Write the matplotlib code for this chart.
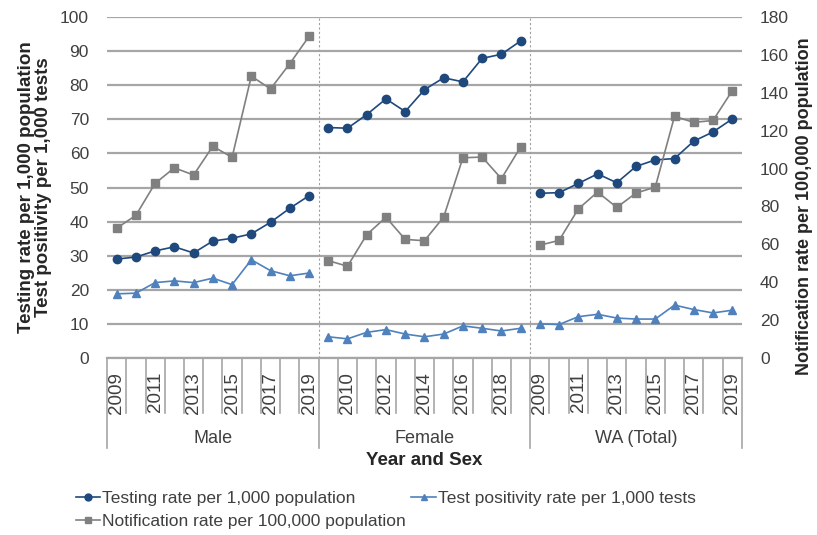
import matplotlib.pyplot as plt
import matplotlib.transforms as mtransforms
from matplotlib.lines import Line2D

plt.rcParams['font.family'] = ['Liberation Sans', 'DejaVu Sans']

groups = ["Male", "Female", "WA (Total)"]
years = [2009, 2010, 2011, 2012, 2013, 2014, 2015, 2016, 2017, 2018, 2019]

testing = {
    "Male": [29.0, 29.6, 31.4, 32.6, 30.8, 34.3, 35.1, 36.4, 39.8, 43.9, 47.6],
    "Female": [67.6, 67.4, 71.4, 76.0, 72.3, 78.7, 82.2, 81.0, 87.9, 89.1, 93.0],
    "WA (Total)": [48.3, 48.5, 51.2, 54.0, 51.4, 56.2, 58.1, 58.5, 63.6, 66.3, 70.1],
}
positivity = {
    "Male": [18.8, 19.0, 22.1, 22.6, 22.1, 23.4, 21.5, 28.8, 25.6, 24.1, 24.9],
    "Female": [6.2, 5.6, 7.5, 8.3, 7.0, 6.2, 7.0, 9.4, 8.7, 7.9, 8.7],
    "WA (Total)": [10.0, 9.8, 12.1, 12.8, 11.7, 11.4, 11.4, 15.5, 14.2, 13.2, 14.0],
}
notification = {
    "Male": [68.5, 75.3, 92.2, 100.4, 96.6, 111.8, 105.9, 148.8, 142.1, 155.4, 169.8],
    "Female": [51.4, 48.4, 65.1, 74.3, 62.6, 61.9, 74.4, 105.7, 106.1, 94.7, 111.4],
    "WA (Total)": [59.5, 62.1, 78.7, 87.6, 79.5, 87.1, 90.2, 127.6, 124.4, 125.4, 141.1],
}

c_test = "#1F497D"
c_pos = "#4F81BD"
c_note = "#808080"
c_grid = "#A6A6A6"
c_txt = "#404040"

fig = plt.figure(figsize=(8.17, 5.35), dpi=100)
ax = fig.add_axes([0.131, 0.331, 0.777, 0.637])
ax2 = ax.twinx()

n = len(years)
for g, name in enumerate(groups):
    x = [g * n + i for i in range(n)]
    ax.plot(x, positivity[name], color=c_pos, marker="^", ms=6, lw=1.2, zorder=3)
    ax.plot(x, testing[name], color=c_test, marker="o", ms=6, lw=1.2, zorder=4)
    ax2.plot(x, notification[name], color=c_note, marker="s", ms=6, lw=1.2, zorder=3)

ax.set_xlim(-0.5, 3 * n - 0.5)
ax.set_ylim(0, 100)
ax.set_yticks(range(0, 101, 10))
ax2.set_ylim(0, 180)
ax2.set_yticks(range(0, 181, 20))

ax.grid(axis="y", color=c_grid, lw=1.6)
ax.set_axisbelow(True)
for s in ["top", "left", "right"]:
    ax.spines[s].set_visible(False)
    ax2.spines[s].set_visible(False)
ax.spines["bottom"].set_color(c_grid)
ax.spines["bottom"].set_linewidth(1.6)
ax2.spines["bottom"].set_visible(False)

ax.tick_params(axis="y", length=0, labelsize=12.5, labelcolor=c_txt, pad=13)
ax2.tick_params(axis="y", length=0, labelsize=12.5, labelcolor=c_txt, pad=13)
ax.tick_params(axis="x", length=0, labelsize=13.5, labelcolor=c_txt, pad=10)

pos = list(range(3 * n))
labels = [str(years[i % n]) if i % 2 == 0 else "" for i in pos]
ax.set_xticks(pos)
ax.set_xticklabels(labels, rotation=90)

# category axis box lines
trans = mtransforms.blended_transform_factory(ax.transData, ax.transAxes)
for b in range(3 * n + 1):
    xb = b - 0.5
    y_end = -0.264 if b % n == 0 else -0.161
    ax.add_line(Line2D([xb, xb], [0, y_end], transform=trans, color=c_grid,
                       lw=1.2, clip_on=False))
for g in (1, 2):
    ax.axvline(g * n - 0.5, color="#A0A0A0", lw=0.8, ls=(0, (2, 2)), zorder=1)
for g, name in enumerate(groups):
    ax.text(g * n + (n - 1) / 2, -0.235, name, transform=trans, ha="center",
            va="center", fontsize=13, color=c_txt)

ax.text(0.5, -0.30, "Year and Sex", transform=ax.transAxes, ha="center",
        va="center", fontsize=13.5, fontweight="bold", color="#262626")
ax.set_ylabel("Testing rate per 1,000 population\nTest positivity per 1,000 tests",
              fontsize=13.5, fontweight="bold", color="#262626", linespacing=1.0)
ax.yaxis.set_label_coords(-0.087, 0.5)
ax2.set_ylabel("Notification rate per 100,000 population", fontsize=13,
               fontweight="bold", color="#262626")
ax2.yaxis.set_label_coords(1.086, 0.446)

handles = [
    Line2D([], [], color=c_test, marker="o", ms=5, lw=1.2),
    Line2D([], [], color=c_note, marker="s", ms=5, lw=1.2),
    Line2D([], [], color=c_pos, marker="^", ms=5, lw=1.2),
]
names = ["Testing rate per 1,000 population",
         "Notification rate per 100,000 population",
         "Test positivity rate per 1,000 tests"]
fig.legend(handles, names, ncol=2, loc="upper left",
           bbox_to_anchor=(0.084, 0.095), frameon=False, fontsize=12.5,
           handlelength=1.4, handletextpad=0.15, columnspacing=0.3,
           labelspacing=0.45, borderaxespad=0, labelcolor=c_txt)

fig.savefig("out.png", dpi=100)
